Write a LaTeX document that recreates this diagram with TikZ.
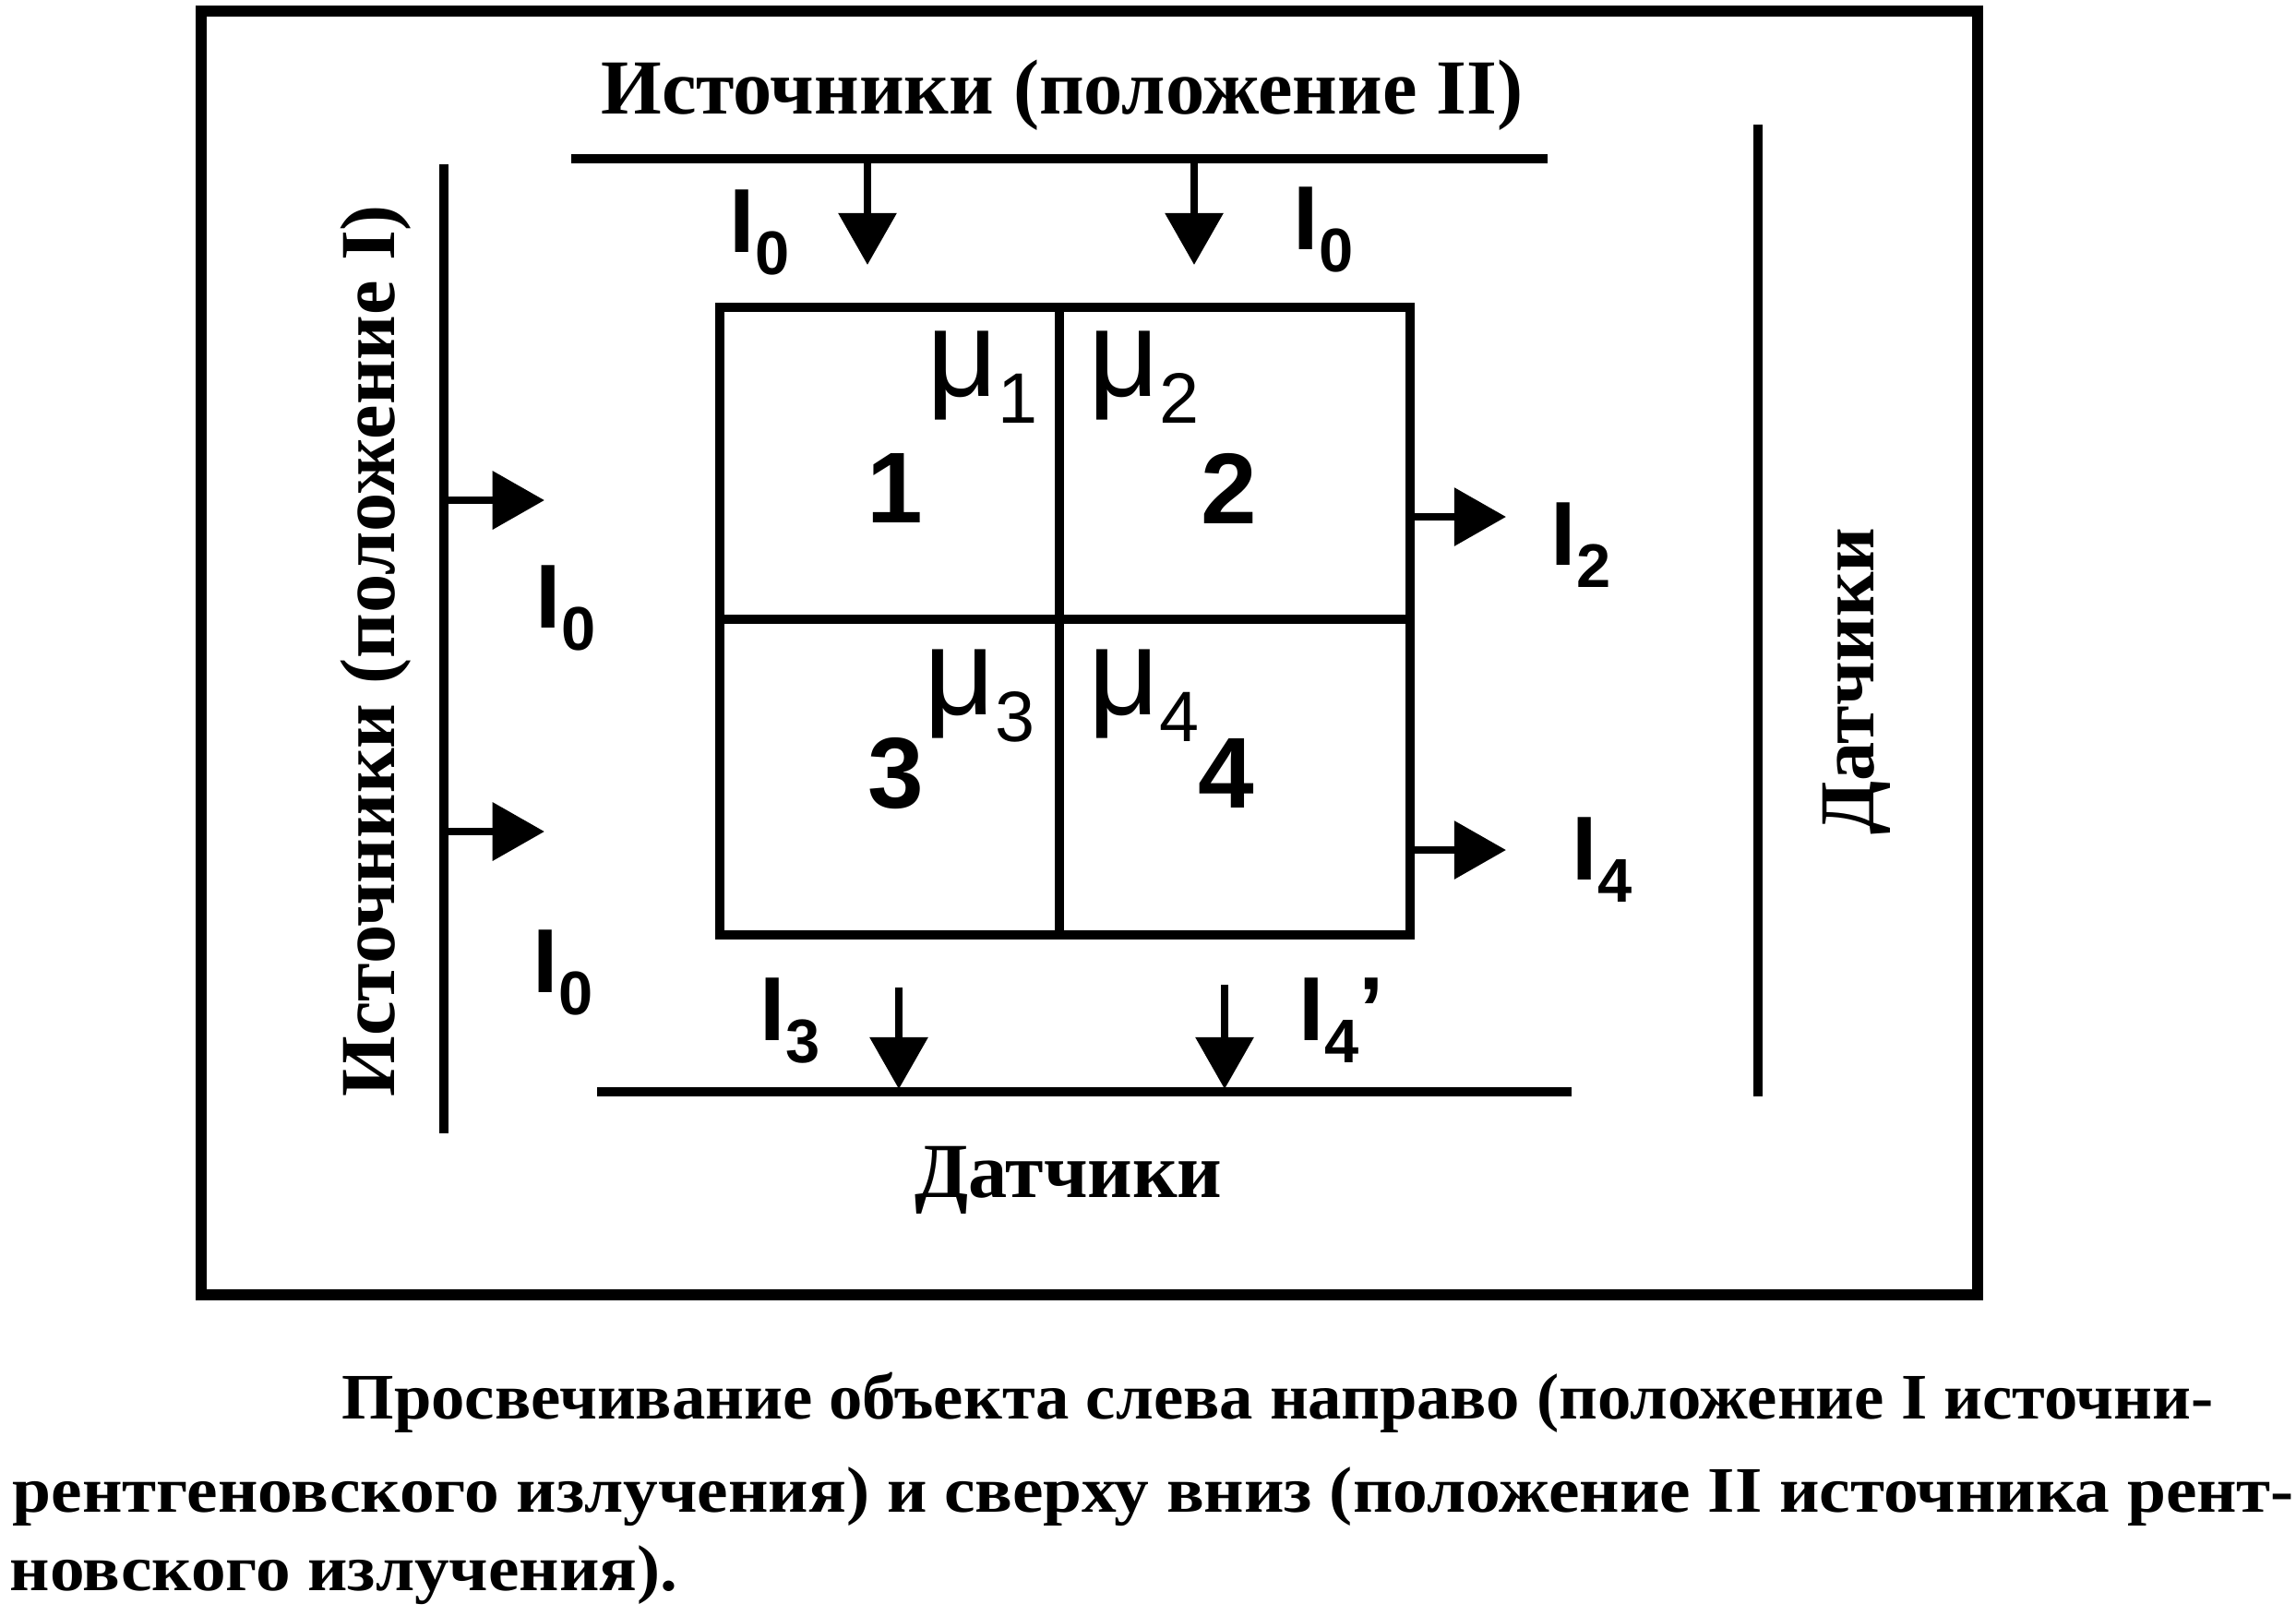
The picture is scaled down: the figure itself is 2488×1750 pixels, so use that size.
\documentclass[tikz,border=0pt]{standalone}
\usepackage{fontspec}
\usepackage{graphicx}
\setmainfont{Liberation Serif}
\setsansfont{Liberation Sans}
\usepackage{tikz}
\usetikzlibrary{arrows.meta, positioning}

\newcommand{\Isub}[1]{I\raisebox{-7pt}{\fontsize{19}{20}\selectfont #1}}
\newcommand{\musub}[1]{{\fontsize{38}{40}\selectfont μ}\raisebox{-8.3pt}{\fontsize{22}{24}\selectfont #1}}

\begin{document}
\begin{tikzpicture}[x=0.01cm, y=-0.01cm,
        bar/.style={line width=2.9pt},
        ray/.style={line width=2.4pt, -{Triangle[length=16pt, width=17.5pt]}},
        heading/.style={font=\fontsize{24}{28}\selectfont\bfseries, inner sep=0pt},
        intens/.style={font=\fontsize{28}{30}\selectfont\sffamily\bfseries, inner sep=0pt, anchor=base west},
        cellnum/.style={font=\fontsize{31}{33}\selectfont\sffamily\bfseries, inner sep=0pt},
        coef/.style={font=\sffamily, inner sep=0pt, anchor=base west},
        capline/.style={font=\fontsize{20}{24}\selectfont\bfseries, inner sep=0pt, anchor=base west}]
        \useasboundingbox (0,0) rectangle (2488,1750);

        % outer frame
        \draw[line width=3.3pt] (218,12) rectangle (2143,1403);

        % object
        \coordinate (nw) at (780,333);
        \coordinate (se) at (1528,1013);
        \draw[bar] (nw) rectangle (se);
        \draw[bar] (1148,333) -- (1148,1013)
            (780,671) -- (1528,671);

        \node[cellnum] (c1) at (970,529) {1};
        \node[cellnum] (c2) at (1332,529) {2};
        \node[cellnum] (c3) at (971,838) {3};
        \node[cellnum] (c4) at (1329,838) {4};

        \node[coef] (mu1) at (1004,429) {\musub{1}};
        \node[coef] (mu2) at (1179,429) {\musub{2}};
        \node[coef] (mu3) at (1001,774) {\musub{3}};
        \node[coef] (mu4) at (1179,774) {\musub{4}};

        % sources and detectors
        \coordinate (topA) at (619,172);
        \coordinate (topB) at (1677,172);
        \coordinate (leftA) at (481,178);
        \coordinate (leftB) at (481,1228);
        \coordinate (botA) at (647,1183);
        \coordinate (botB) at (1703,1183);
        \coordinate (rightA) at (1905,135);
        \coordinate (rightB) at (1905,1188);
        \draw[bar] (topA) -- (topB)
            (leftA) -- (leftB)
            (botA) -- (botB)
            (rightA) -- (rightB);

        % rays
        \coordinate (s1) at (940,172);
        \coordinate (t1) at (940,287);
        \coordinate (s2) at (1294,172);
        \coordinate (t2) at (1294,287);
        \coordinate (s3) at (481,542);
        \coordinate (t3) at (590,542);
        \coordinate (s4) at (481,901);
        \coordinate (t4) at (590,901);
        \coordinate (s5) at (1528,560);
        \coordinate (t5) at (1632,560);
        \coordinate (s6) at (1528,921);
        \coordinate (t6) at (1632,921);
        \coordinate (s7) at (974,1070);
        \coordinate (t7) at (974,1180);
        \coordinate (s8) at (1327,1067);
        \coordinate (t8) at (1327,1180);
        \foreach \i in {1,...,8}
            \draw[ray] (s\i) -- (t\i);

        \node[intens] (i0a) at (790,273) {\Isub{0}};
        \node[intens] (i0b) at (1401,270) {\Isub{0}};
        \node[intens] (i0c) at (580,680) {\Isub{0}};
        \node[intens] (i0d) at (577,1075) {\Isub{0}};
        \node[intens] (i2) at (1680,612) {\Isub{2}};
        \node[intens] (i4) at (1703,953) {\Isub{4}};
        \node[intens] (i3) at (823,1127) {\Isub{3}};
        \node[intens] (i4p) at (1407,1127) {\Isub{4}'};

        % headings
        \node[heading, anchor=base] (srcII) at (1151,123) {Источники (положение II)};
        \node[heading, anchor=base, rotate=90] (srcI) at (427,705) {Источники (положение I)};
        \node[heading, anchor=base] (detBot) at (1158,1297) {Датчики};
        \node[heading, anchor=base, rotate=90] (detRight) at (2030,738) {Датчики};

        % caption
        \node[capline] (cap1) at (370,1537) {\resizebox{20.27cm}{\height}{Просвечивание объекта слева направо (положение I источни-}};
        \node[capline] (cap2) at (13,1638) {\resizebox{24.71cm}{\height}{рентгеновского излучения) и сверху вниз (положение II источника рент-}};
        \node[capline] (cap3) at (10,1723) {\resizebox{7.23cm}{\height}{новского излучения).}};
    \end{tikzpicture}
\end{document}
